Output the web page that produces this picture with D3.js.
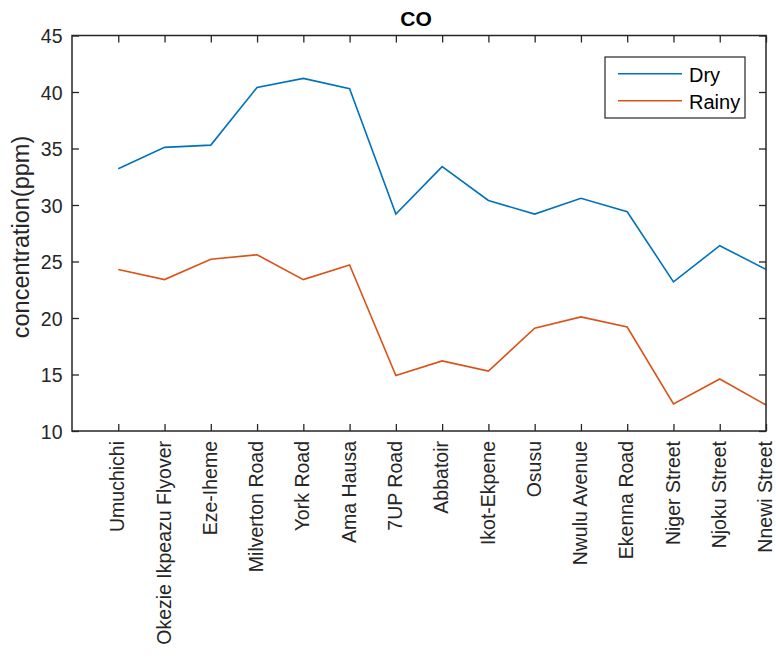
<!DOCTYPE html>
<html>
<head>
<meta charset="utf-8">
<script src="https://cdn.jsdelivr.net/npm/d3@7"></script>
<style>
  html, body { margin: 0; padding: 0; background: #fff; }
  svg { display: block; font-family: "Liberation Sans", Arial, Helvetica, sans-serif; }
</style>
</head>
<body>
<svg id="chart" width="776" height="662"></svg>
<script>
const categories = ["Umuchichi", "Okezie Ikpeazu Flyover", "Eze-Iheme", "Milverton Road", "York Road",
  "Ama Hausa", "7UP Road", "Abbatoir", "Ikot-Ekpene", "Osusu", "Nwulu Avenue", "Ekenna Road",
  "Niger Street", "Njoku Street", "Nnewi Street"];
const dryValues = [33.2, 35.1, 35.3, 40.4, 41.2, 40.3, 29.2, 33.4, 30.4, 29.2, 30.6, 29.4, 23.2, 26.4, 24.3];
const rainyValues = [24.3, 23.4, 25.2, 25.6, 23.4, 24.7, 14.9, 16.2, 15.3, 19.1, 20.1, 19.2, 12.4, 14.6, 12.3];
const yTicks = [10, 15, 20, 25, 30, 35, 40, 45];
const seriesNames = ["Dry", "Rainy"];
const seriesColors = ["#0072BD", "#D95319"];
const titleText = "CO";
const yLabel = "concentration(ppm)";

const svg = d3.select("#chart");
const L = 72, R = 766, T = 35.5, B = 431;
const axisColor = "#262626";

const x = d3.scaleLinear().domain([0, categories.length]).range([L, R]);
const y = d3.scaleLinear().domain([10, 45]).range([B, T]);
const idx = d3.range(1, categories.length + 1);

// lines
const line = d3.line().x((d, i) => x(i + 1)).y(d => y(d));
[dryValues, rainyValues].forEach((vals, k) => {
  svg.append("path").datum(vals)
    .attr("fill", "none")
    .attr("stroke", seriesColors[k])
    .attr("stroke-width", 1.6)
    .attr("stroke-linejoin", "miter")
    .attr("d", line);
});

function styleAxis(g) {
  g.select(".domain").remove();
  g.selectAll(".tick line").attr("stroke", axisColor).attr("stroke-width", 1.3);
  g.selectAll("text").attr("fill", axisColor).attr("font-family", "Liberation Sans, Arial, sans-serif");
}

// left axis
svg.append("g").attr("transform", `translate(${L},0)`)
  .call(d3.axisLeft(y).tickValues(yTicks).tickSize(-7).tickPadding(9.5))
  .call(styleAxis)
  .selectAll("text").attr("font-size", 19.5).attr("dy", "0.38em");

// right axis (no labels)
svg.append("g").attr("transform", `translate(${R},0)`)
  .call(d3.axisRight(y).tickValues(yTicks).tickSize(-7).tickFormat(""))
  .call(styleAxis);

// top axis (no labels)
svg.append("g").attr("transform", `translate(0,${T})`)
  .call(d3.axisTop(x).tickValues(idx).tickSize(-7).tickFormat(""))
  .call(styleAxis);

// bottom axis
const bx = svg.append("g").attr("transform", `translate(0,${B})`)
  .call(d3.axisBottom(x).tickValues(idx).tickSize(-7).tickFormat(i => categories[i - 1]))
  .call(styleAxis);
bx.selectAll("text")
  .attr("font-size", 19.5)
  .attr("text-anchor", "end")
  .attr("transform", "rotate(-90)")
  .attr("x", -10)
  .attr("y", 0)
  .attr("dy", 5.6);

// box
svg.append("rect").attr("x", L).attr("y", T).attr("width", R - L).attr("height", B - T)
  .attr("fill", "none").attr("stroke", axisColor).attr("stroke-width", 1.5);

// title
svg.append("text").attr("x", 416).attr("y", 26)
  .attr("text-anchor", "middle").attr("font-weight", "bold").attr("font-size", 21)
  .attr("fill", "#000").text(titleText);

// y label
svg.append("text")
  .attr("transform", `translate(29,237) rotate(-90)`)
  .attr("text-anchor", "middle").attr("font-size", 23.5)
  .attr("fill", axisColor).text(yLabel);

// legend
const lg = svg.append("g");
lg.append("rect").attr("x", 605).attr("y", 57).attr("width", 140).attr("height", 61)
  .attr("fill", "#fff").attr("stroke", axisColor).attr("stroke-width", 1.2);
seriesNames.forEach((name, k) => {
  const ly = 73.7 + k * 27;
  lg.append("line").attr("x1", 618).attr("x2", 682).attr("y1", ly).attr("y2", ly)
    .attr("stroke", seriesColors[k]).attr("stroke-width", 1.6);
  lg.append("text").attr("x", 689).attr("y", ly + 8.5)
    .attr("font-size", 20).attr("fill", "#000").text(name);
});
</script>
</body>
</html>
